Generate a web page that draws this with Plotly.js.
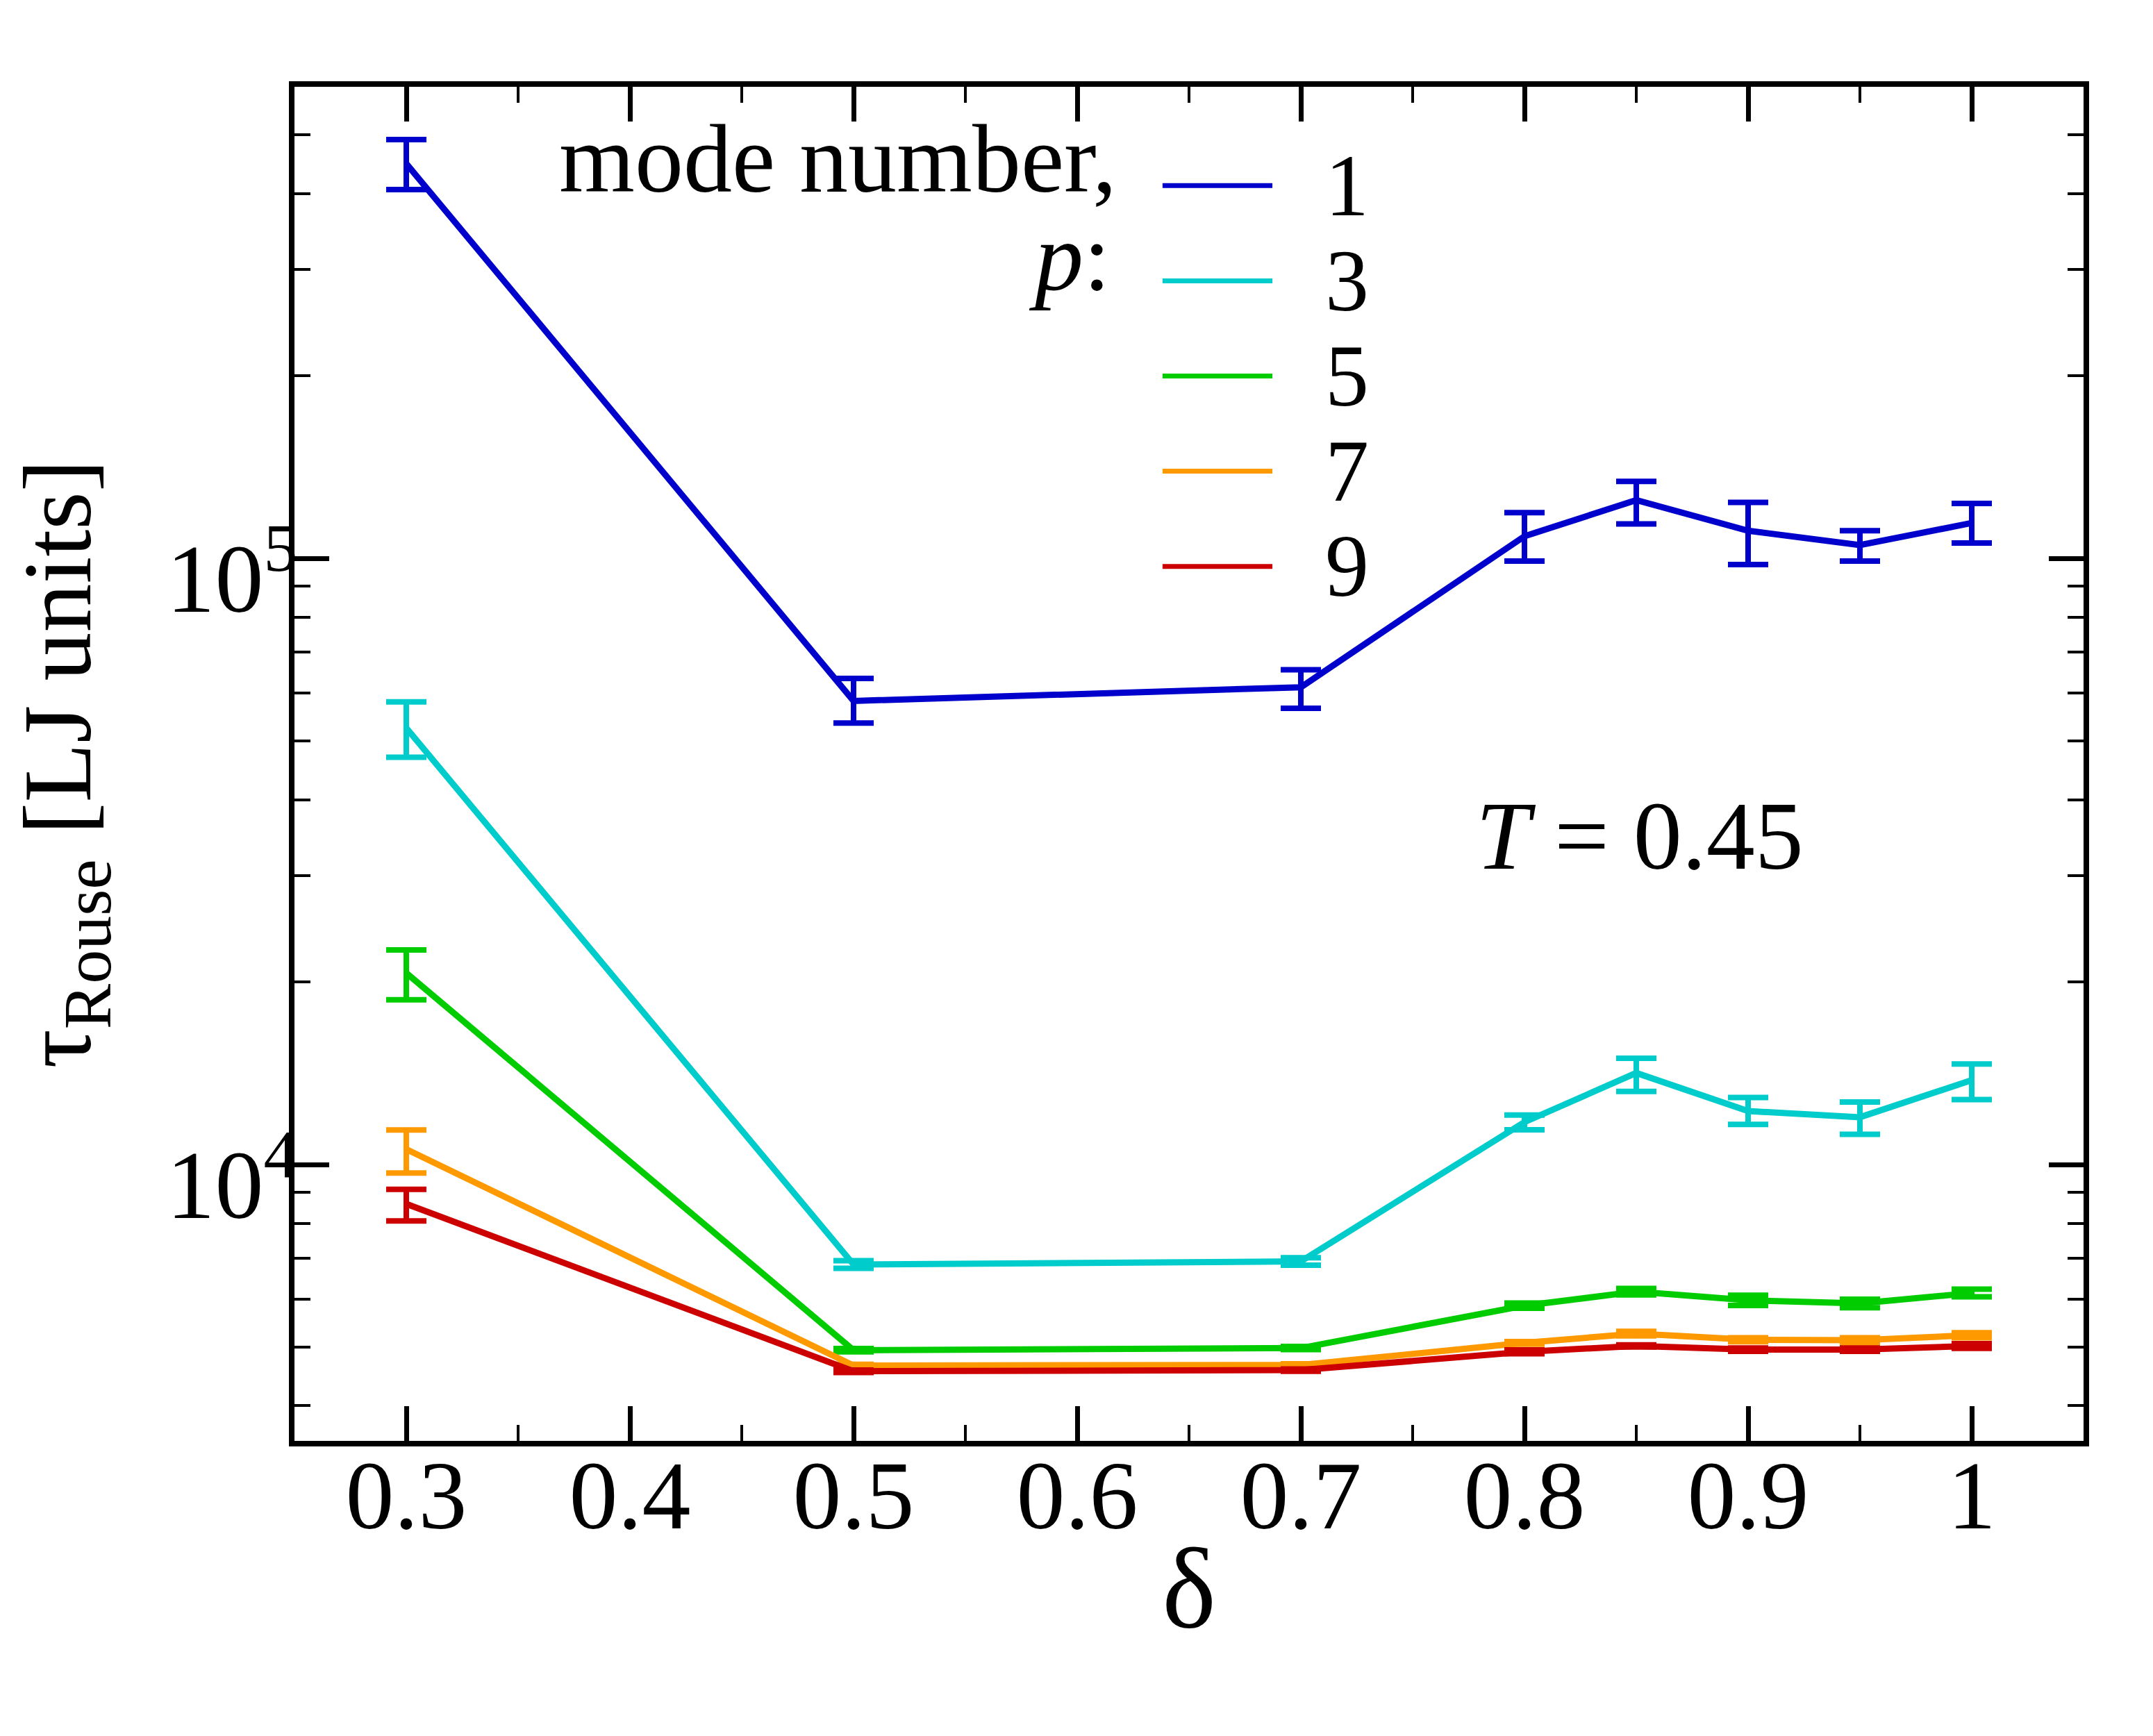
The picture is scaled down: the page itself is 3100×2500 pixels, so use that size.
<!DOCTYPE html>
<html>
<head>
<meta charset="utf-8">
<script src="https://cdn.plot.ly/plotly-3.0.1.min.js"></script>
<style>html,body{margin:0;padding:0;background:#fff;}</style>
</head>
<body>
<div id="chart" style="width:3100px;height:2500px;"></div>
<script>
// ---- data ----
const delta = [0.3, 0.5, 0.7, 0.8, 0.85, 0.9, 0.95, 1.0];

const modeLabels = ['1', '3', '5', '7', '9'];
const modeColors = ['#0000cc', '#00cccc', '#00cc00', '#ff9900', '#cc0000'];

const tauP1 = [448000, 58200, 61300, 108800, 124800, 111100, 105200, 114400];
const errP1Plus  = [43000, 5200, 4200, 10200, 9200, 12600, 5900, 8800];
const errP1Minus = [42000, 4700, 4700, 9800, 10800, 13400, 6200, 8400];

const tauP3 = [52500, 6840, 6920, 11750, 14160, 12250, 11970, 13780];
const errP3Plus  = [5500, 100, 100, 320, 810, 650, 710, 870];
const errP3Minus = [5500, 100, 100, 340, 960, 600, 750, 980];

const tauP5 = [20700, 4940, 4980, 5850, 6170, 5970, 5900, 6140];
const errP5Plus  = [1900, 30, 30, 57, 75, 115, 95, 88];
const errP5Minus = [2000, 30, 30, 57, 75, 115, 95, 88];

const tauP7 = [10600, 4660, 4670, 5080, 5260, 5140, 5130, 5230];
const errP7Plus  = [800, 20, 20, 25, 45, 40, 50, 50];
const errP7Minus = [920, 20, 20, 25, 45, 40, 50, 50];

const tauP9 = [8610, 4560, 4580, 4910, 5020, 4950, 4950, 5020];
const errP9Plus  = [490, 20, 20, 35, 20, 30, 30, 45];
const errP9Minus = [540, 20, 20, 35, 20, 30, 30, 45];

const xTickVals = [0.3, 0.4, 0.5, 0.6, 0.7, 0.8, 0.9, 1.0];
const xTickText = ['0.3', '0.4', '0.5', '0.6', '0.7', '0.8', '0.9', '1'];

const seriesY = [tauP1, tauP3, tauP5, tauP7, tauP9];
const seriesPlus = [errP1Plus, errP3Plus, errP5Plus, errP7Plus, errP9Plus];
const seriesMinus = [errP1Minus, errP3Minus, errP5Minus, errP7Minus, errP9Minus];

// ---- styling ----
const FONT = 'Liberation Serif, Times New Roman, serif';

const traces = seriesY.map((ys, i) => ({
  type: 'scatter',
  mode: 'lines',
  x: delta,
  y: ys,
  name: modeLabels[i],
  showlegend: false,
  line: {color: modeColors[i], width: 9},
  error_y: {
    type: 'data',
    symmetric: false,
    array: seriesPlus[i],
    arrayminus: seriesMinus[i],
    color: modeColors[i],
    thickness: 8,
    width: 29,
    visible: true
  }
}));

// custom legend (long line samples as in the reference)
const legX0 = 0.4852, legX1 = 0.5466, legTextX = 0.5755;
const legY0 = 0.9270, legDy = 0.0703;
const shapes = modeLabels.map((lab, i) => ({
  type: 'line', xref: 'paper', yref: 'paper',
  x0: legX0, x1: legX1, y0: legY0 - i * legDy, y1: legY0 - i * legDy,
  line: {color: modeColors[i], width: 7}
}));
const annotations = modeLabels.map((lab, i) => ({
  xref: 'paper', yref: 'paper', x: legTextX, y: legY0 - i * legDy,
  xanchor: 'left', yanchor: 'middle', showarrow: false, text: lab,
  font: {family: FONT, size: 126, color: '#000'}
}));
annotations.push({
  xref: 'paper', yref: 'paper', x: 0.1471, y: 0.9467,
  xanchor: 'left', yanchor: 'middle', showarrow: false, text: 'mode number,',
  font: {family: FONT, size: 140, color: '#000'}
});
annotations.push({
  xref: 'paper', yref: 'paper', x: 0.4570, y: 0.8746,
  xanchor: 'right', yanchor: 'middle', showarrow: false, text: '<i>p</i>:',
  font: {family: FONT, size: 140, color: '#000'}
});
annotations.push({
  xref: 'paper', yref: 'paper', x: 0.752, y: 0.4467,
  xanchor: 'center', yanchor: 'middle', showarrow: false, text: '<i>T</i> = 0.45',
  font: {family: FONT, size: 140, color: '#000'}
});

const layout = {
  width: 3100, height: 2500,
  margin: {l: 424, r: 100, t: 125, b: 425, pad: 0},
  paper_bgcolor: '#fff', plot_bgcolor: '#fff',
  showlegend: false,
  xaxis: {
    range: [0.25, 1.05],
    tickmode: 'array', tickvals: xTickVals, ticktext: xTickText,
    ticks: 'inside', ticklen: 50, tickwidth: 7, tickcolor: '#000',
    minor: {dtick: 0.05, tick0: 0, ticks: 'inside', ticklen: 23, tickwidth: 4, tickcolor: '#000', showgrid: false},
    showline: true, linewidth: 8, linecolor: '#000', mirror: 'ticks',
    showgrid: false, zeroline: false,
    tickfont: {family: FONT, size: 140, color: '#000'},
    ticklabelstandoff: -50,
    title: {text: 'δ', font: {family: FONT, size: 165, color: '#000'}, standoff: 0}
  },
  yaxis: {
    type: 'log',
    range: [Math.log10(3500), Math.log10(600000)],
    dtick: 1, exponentformat: 'power',
    ticks: 'inside', ticklen: 50, tickwidth: 7, tickcolor: '#000',
    minor: {dtick: 'D1', ticks: 'inside', ticklen: 23, tickwidth: 4, tickcolor: '#000', showgrid: false},
    showline: true, linewidth: 8, linecolor: '#000', mirror: 'ticks',
    showgrid: false, zeroline: false,
    tickfont: {family: FONT, size: 112, color: '#000'},
    ticklabelstandoff: -35,
    ticklabelshift: 28,
    title: {text: 'τ<sub>Rouse</sub> [LJ units]', font: {family: FONT, size: 140, color: '#000'}, standoff: 65}
  },
  shapes: shapes,
  annotations: annotations
};

Plotly.newPlot('chart', traces, layout, {staticPlot: true, displayModeBar: false});
</script>
</body>
</html>
